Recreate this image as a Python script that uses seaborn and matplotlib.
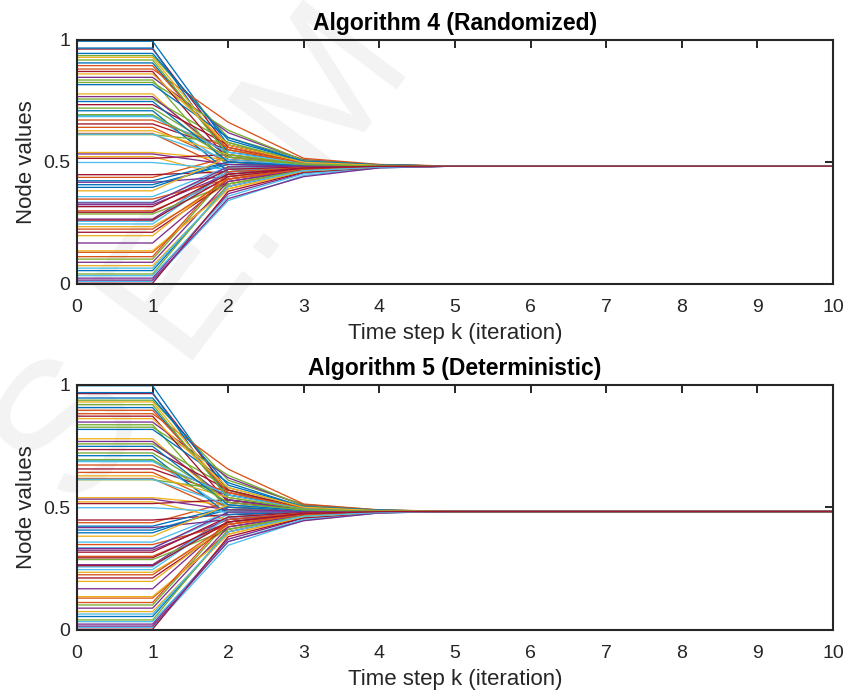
import matplotlib
matplotlib.use("Agg")
import matplotlib.pyplot as plt
import numpy as np
import pandas as pd
import seaborn as sns

# initial node values (held for k = 0 and k = 1), in node order
init_values = [
    0.995, 0.437, 0.779, 0.168, 0.936, 0.335, 0.656, 0.055, 0.881, 0.522,
    0.266, 0.721, 0.011, 0.963, 0.396, 0.617, 0.235, 0.847, 0.102, 0.690,
    0.448, 0.906, 0.300, 0.539, 0.024, 0.758, 0.358, 0.212, 0.967, 0.642,
    0.075, 0.417, 0.826, 0.257, 0.515, 0.710, 0.130, 0.929, 0.325, 0.612,
    0.034, 0.871, 0.407, 0.672, 0.198, 0.768, 0.287, 0.498, 0.003, 0.945,
    0.348, 0.628, 0.089, 0.836, 0.246, 0.735, 0.423, 0.895, 0.136, 0.533,
    0.041, 0.686, 0.317, 0.817, 0.225, 0.382, 0.016, 0.918, 0.614, 0.262,
    0.748, 0.112, 0.861, 0.332, 0.694, 0.065, 0.294,
]

# Algorithm 4 (Randomized)
alg4_k2 = [
    0.57, 0.52, 0.50, 0.43, 0.60, 0.47, 0.55, 0.40, 0.663, 0.44,
    0.46, 0.53, 0.342, 0.56, 0.50, 0.47, 0.41, 0.62, 0.45, 0.49,
    0.46, 0.54, 0.43, 0.51, 0.37, 0.58, 0.48, 0.42, 0.52, 0.50,
    0.39, 0.44, 0.63, 0.47, 0.53, 0.46, 0.40, 0.55, 0.45, 0.58,
    0.36, 0.51, 0.49, 0.56, 0.44, 0.52, 0.41, 0.47, 0.38, 0.59,
    0.43, 0.53, 0.42, 0.48, 0.46, 0.57, 0.50, 0.55, 0.39, 0.49,
    0.41, 0.54, 0.47, 0.60, 0.43, 0.52, 0.35, 0.53, 0.51, 0.44,
    0.50, 0.46, 0.57, 0.48, 0.52, 0.40, 0.45,
]
alg4_k3 = [
    0.505, 0.490, 0.478, 0.468, 0.510, 0.485, 0.498, 0.462, 0.515, 0.475,
    0.470, 0.495, 0.445, 0.492, 0.488, 0.480, 0.465, 0.508, 0.472, 0.483,
    0.476, 0.500, 0.470, 0.487, 0.455, 0.500, 0.482, 0.466, 0.494, 0.485,
    0.460, 0.473, 0.506, 0.479, 0.490, 0.481, 0.468, 0.497, 0.474, 0.496,
    0.452, 0.489, 0.484, 0.499, 0.471, 0.490, 0.467, 0.481, 0.458, 0.503,
    0.474, 0.493, 0.469, 0.486, 0.478, 0.497, 0.486, 0.495, 0.463, 0.484,
    0.466, 0.492, 0.480, 0.502, 0.471, 0.488, 0.440, 0.491, 0.487, 0.475,
    0.485, 0.477, 0.499, 0.483, 0.489, 0.464, 0.476,
]
alg4_k4 = [
    0.488, 0.485, 0.483, 0.480, 0.489, 0.484, 0.486, 0.479, 0.490, 0.482,
    0.481, 0.486, 0.476, 0.485, 0.484, 0.483, 0.480, 0.488, 0.481, 0.483,
    0.482, 0.487, 0.481, 0.484, 0.478, 0.487, 0.483, 0.480, 0.485, 0.484,
    0.479, 0.482, 0.488, 0.483, 0.485, 0.483, 0.480, 0.486, 0.482, 0.486,
    0.477, 0.484, 0.483, 0.486, 0.481, 0.485, 0.480, 0.483, 0.478, 0.488,
    0.482, 0.485, 0.480, 0.484, 0.483, 0.486, 0.484, 0.486, 0.479, 0.483,
    0.480, 0.485, 0.483, 0.487, 0.481, 0.484, 0.476, 0.485, 0.484, 0.482,
    0.484, 0.482, 0.486, 0.483, 0.484, 0.479, 0.482,
]

# Algorithm 5 (Deterministic)
alg5_k2 = [
    0.56, 0.52, 0.51, 0.44, 0.61, 0.47, 0.55, 0.40, 0.655, 0.45,
    0.46, 0.53, 0.345, 0.57, 0.50, 0.48, 0.41, 0.62, 0.44, 0.49,
    0.47, 0.55, 0.43, 0.51, 0.37, 0.58, 0.48, 0.42, 0.53, 0.50,
    0.39, 0.45, 0.63, 0.46, 0.53, 0.47, 0.40, 0.56, 0.45, 0.57,
    0.36, 0.52, 0.49, 0.56, 0.43, 0.53, 0.41, 0.48, 0.38, 0.59,
    0.43, 0.54, 0.42, 0.49, 0.46, 0.57, 0.50, 0.56, 0.39, 0.49,
    0.41, 0.55, 0.46, 0.60, 0.43, 0.51, 0.36, 0.54, 0.51, 0.44,
    0.51, 0.45, 0.58, 0.48, 0.52, 0.40, 0.44,
]
alg5_k3 = [
    0.503, 0.491, 0.480, 0.469, 0.511, 0.484, 0.497, 0.461, 0.513, 0.476,
    0.471, 0.494, 0.447, 0.494, 0.487, 0.481, 0.464, 0.507, 0.471, 0.483,
    0.477, 0.501, 0.469, 0.488, 0.456, 0.499, 0.482, 0.467, 0.495, 0.486,
    0.459, 0.474, 0.505, 0.478, 0.491, 0.482, 0.467, 0.498, 0.473, 0.495,
    0.451, 0.490, 0.484, 0.498, 0.470, 0.491, 0.466, 0.482, 0.457, 0.502,
    0.473, 0.494, 0.468, 0.487, 0.477, 0.496, 0.487, 0.496, 0.462, 0.485,
    0.465, 0.493, 0.479, 0.501, 0.470, 0.487, 0.445, 0.492, 0.488, 0.474,
    0.486, 0.476, 0.500, 0.482, 0.489, 0.463, 0.475,
]
alg5_k4 = [
    0.487, 0.485, 0.483, 0.480, 0.489, 0.484, 0.486, 0.479, 0.489, 0.482,
    0.481, 0.486, 0.477, 0.486, 0.484, 0.483, 0.480, 0.488, 0.481, 0.483,
    0.482, 0.487, 0.481, 0.484, 0.478, 0.487, 0.483, 0.480, 0.485, 0.484,
    0.479, 0.482, 0.488, 0.483, 0.485, 0.483, 0.480, 0.486, 0.482, 0.486,
    0.477, 0.484, 0.483, 0.486, 0.481, 0.485, 0.480, 0.483, 0.478, 0.488,
    0.482, 0.485, 0.480, 0.484, 0.483, 0.486, 0.484, 0.486, 0.479, 0.483,
    0.480, 0.485, 0.482, 0.487, 0.481, 0.484, 0.477, 0.485, 0.484, 0.482,
    0.484, 0.482, 0.486, 0.483, 0.484, 0.479, 0.482,
]

consensus = 0.483  # every node sits here from k = 5 on
steps = list(range(11))

titles = ["Algorithm 4 (Randomized)", "Algorithm 5 (Deterministic)"]
matlab_colors = ["#0072BD", "#D95319", "#EDB120", "#7E2F8E",
                 "#77AC30", "#4DBEEE", "#A2142F"]


def build_frame(k2, k3, k4):
    rows = []
    for node, x0 in enumerate(init_values):
        traj = [x0, x0, k2[node], k3[node], k4[node]] + [consensus] * 6
        for k, v in zip(steps, traj):
            rows.append((node, k, v))
    return pd.DataFrame(rows, columns=["node", "k", "value"])


frames = [build_frame(alg4_k2, alg4_k3, alg4_k4),
          build_frame(alg5_k2, alg5_k3, alg5_k4)]

sns.set_style("white")
plt.rcParams["font.family"] = ["Liberation Sans", "DejaVu Sans"]

W, H = 849, 697
fig = plt.figure(figsize=(W / 100, H / 100), dpi=100)

# faint watermark behind the plots
fig.text(77 / W, 1 - 514 / H, "S E. M", rotation=53, rotation_mode="anchor",
         ha="left", va="baseline", fontsize=135, color="#f3f3f3", zorder=-1)

axes = [fig.add_axes([77 / W, 1 - 284 / H, 756 / W, 244 / H]),
        fig.add_axes([77 / W, 1 - 630 / H, 756 / W, 245.5 / H])]

palette = [matlab_colors[i % 7] for i in range(len(init_values))]

for ax, df, title in zip(axes, frames, titles):
    ax.patch.set_alpha(0)
    sns.lineplot(data=df, x="k", y="value", hue="node", palette=palette,
                 estimator=None, sort=False, legend=False, linewidth=0.95, ax=ax)
    ax.set_xlim(0, 10)
    ax.set_ylim(0, 1)
    ax.set_xticks(range(11))
    ax.set_yticks([0, 0.5, 1])
    ax.set_yticklabels(["0", "0.5", "1"])
    ax.tick_params(direction="in", length=6, width=1.4, color="#262626",
                   top=True, right=True, labelsize=14, labelcolor="#262626")
    ax.tick_params(axis="x", pad=11)
    ax.tick_params(axis="y", pad=5)
    for s in ax.spines.values():
        s.set_linewidth(1.5)
        s.set_color("#262626")
    ax.set_title(title, fontsize=16.5, fontweight="bold", color="black", pad=7)
    ax.set_xlabel("Time step k (iteration)", fontsize=16, color="#262626", labelpad=5)
    ax.set_ylabel("Node values", fontsize=16, color="#262626", labelpad=4)

fig.savefig("out.png", dpi=100)
